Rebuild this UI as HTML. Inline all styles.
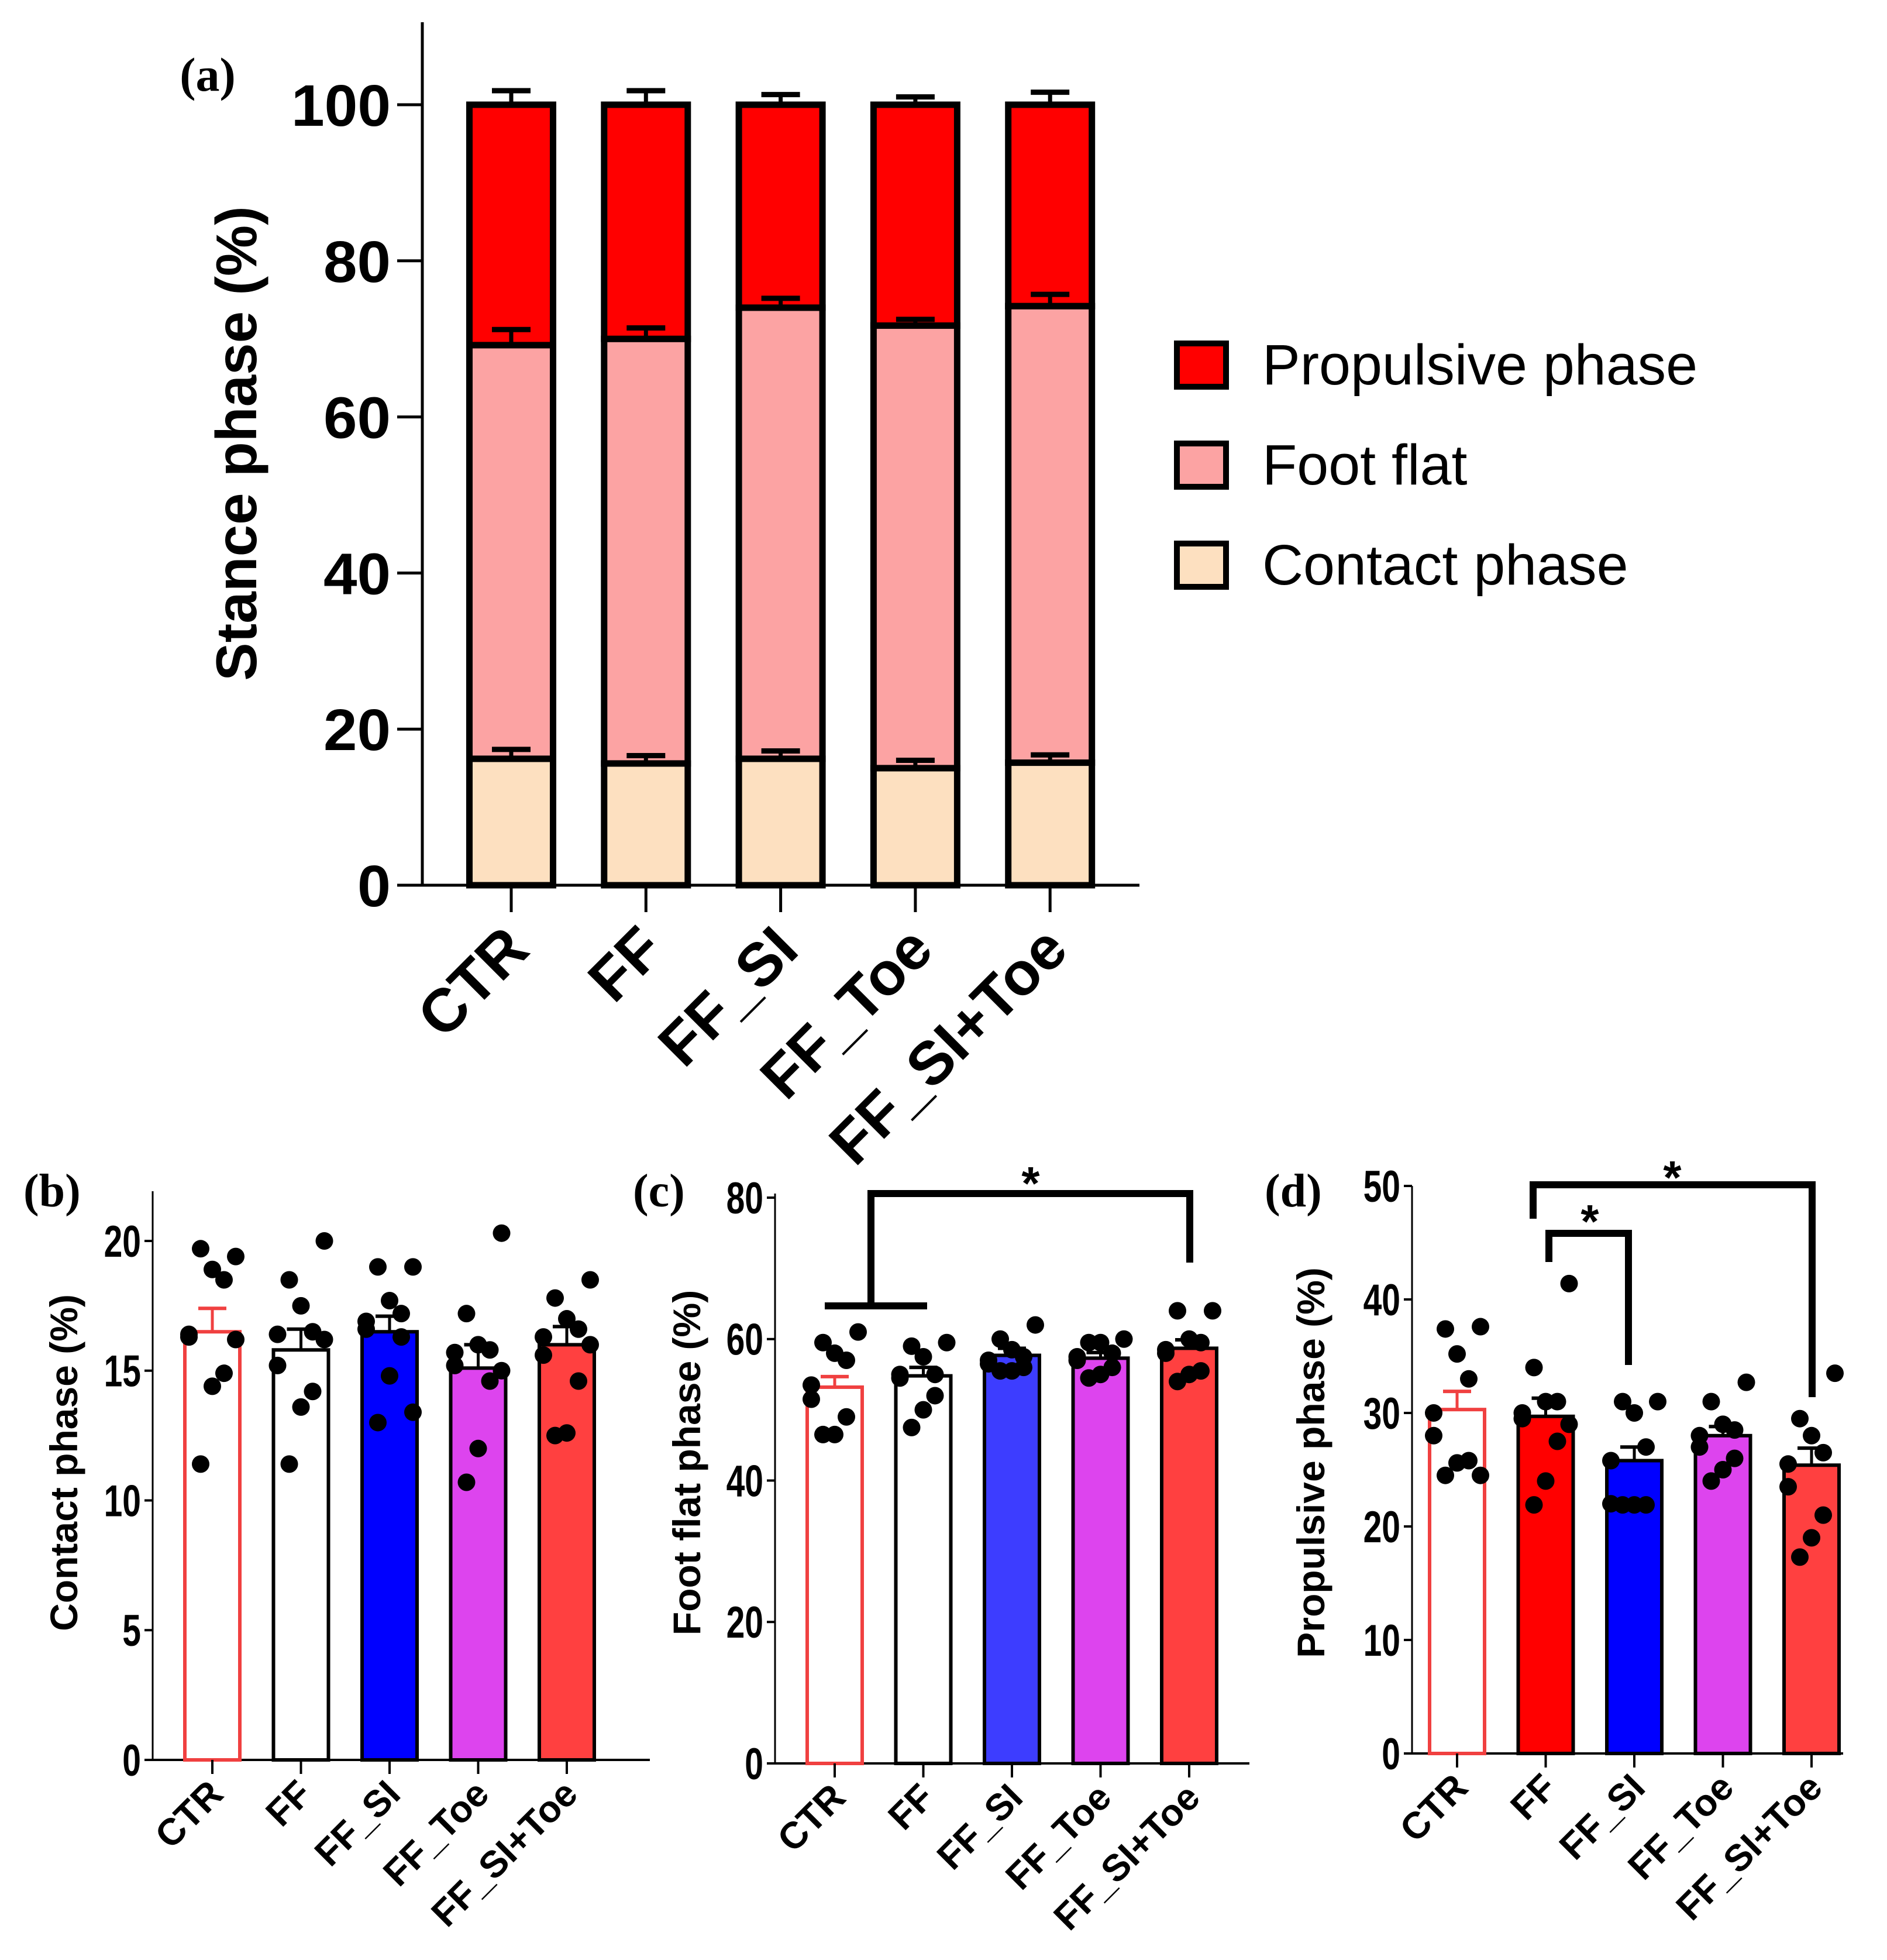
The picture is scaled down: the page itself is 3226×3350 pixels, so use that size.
<!DOCTYPE html>
<html><head><meta charset="utf-8">
<style>
html,body{margin:0;padding:0;background:#fff;}
svg{display:block;}
text{font-family:"Liberation Sans",sans-serif;}
text.serif{font-family:"Liberation Serif",serif;}
</style></head>
<body>
<svg id="fig" width="3226" height="3350" viewBox="0 0 3226 3350" xmlns="http://www.w3.org/2000/svg"></svg>
<script>
// ---------- Panel (a) data ----------
const groups = ["CTR","FF","FF_SI","FF_Toe","FF_SI+Toe"];
const contactMean = [16.2,15.6,16.2,15.0,15.7];
const contactErr = [1.2,1.0,1.0,1.0,1.0];
const footFlatTop = [69.2,70.0,74.0,71.7,74.2];
const footFlatErr = [2.0,1.4,1.2,0.8,1.5];
const propulsiveTop = [100,100,100,100,100];
const propulsiveErr = [1.8,1.8,1.3,1.0,1.6];
const aTicks = [0,20,40,60,80,100];
const legendLabels = ["Propulsive phase","Foot flat","Contact phase"];

// ---------- Panel (b) data ----------
const bMeans = [16.5,15.8,16.5,15.1,16.0];
const bErr = [0.9,0.8,0.6,0.9,0.7];
const bTicks = [0,5,10,15,20];
const bPoints = [
 [19.4,19.7,18.9,18.5,16.4,16.3,14.9,14.4,11.4,16.2],
 [20.0,18.5,17.5,16.5,16.4,15.2,14.2,13.6,11.4,16.2],
 [19.0,19.0,17.7,17.2,16.9,16.6,16.3,14.8,13.0,13.4],
 [20.3,17.2,16.0,15.8,15.7,15.2,14.6,12.0,10.7,15.0],
 [18.5,17.8,17.0,16.6,16.3,15.6,14.6,12.6,12.5,16.0]
];
// ---------- Panel (c) data ----------
const cMeans = [53.2,54.8,57.7,57.3,58.7];
const cErr = [1.5,1.2,1.0,0.8,1.2];
const cTicks = [0,20,40,60,80];
const cPoints = [
 [61,59.5,58,57,53.5,51.5,49,46.5,46.5],
 [59.5,59,57.5,55,55,54.5,52,50,47.5],
 [62,60,58.5,57.5,57,56.5,56,55.5,55.5],
 [60,59.5,59.5,58,57.5,57,56,55,54.5],
 [64,64,60,59.5,58.5,58,55.5,55,54]
];
// ---------- Panel (d) data ----------
const dMeans = [30.3,29.7,25.8,28.0,25.4];
const dErr = [1.6,1.6,1.2,0.8,1.5];
const dTicks = [0,10,20,30,40,50];
const dPoints = [
 [37.6,37.4,35.2,33.0,30.0,28.0,25.8,25.6,24.5,24.5],
 [41.4,34.0,31.0,31.0,30.0,29.5,27.5,24.0,21.9,29.0],
 [31.0,31.0,30.0,27.0,25.8,22.0,21.9,21.9,21.9],
 [32.7,31.0,29.0,28.5,28.0,27.0,26.0,25.0,24.0],
 [33.5,29.5,28.0,26.5,25.5,23.5,21.0,19.0,17.3]
];

const NS="http://www.w3.org/2000/svg";
const svg=document.getElementById('fig');
function el(tag,attrs,parent){const e=document.createElementNS(NS,tag);for(const k in attrs)e.setAttribute(k,attrs[k]);(parent||svg).appendChild(e);return e;}
function txt(s,attrs,parent){const e=el('text',attrs,parent);e.textContent=s;return e;}

// ================= Panel (a) =================
(function(){
 const g=el('g',{});
 
 
 const x0=722, yZero=1513, y100=179, xEnd=1948, yTop=38;
 const y=v=>yZero-(v/100)*(yZero-y100);
 const xc=i=>874+i*230.3;
 const bw=143;
 let ax=el('line',{x1:x0,y1:yTop,x2:x0,y2:yZero,stroke:'#000','stroke-width':5},g);
 
 let xa=el('line',{x1:679,y1:yZero,x2:xEnd,y2:yZero,stroke:'#000','stroke-width':5},g);
 
 aTicks.forEach(t=>{
  el('line',{x1:679,y1:y(t),x2:x0,y2:y(t),stroke:'#000','stroke-width':5},g);
  const l=txt(String(t),{x:668,y:y(t)+36,'text-anchor':'end','font-size':100,'font-weight':'bold',textLength:t>=100?170:(t>0?115:57),lengthAdjust:'spacingAndGlyphs'},g);
  
 });
 const yt=txt('Stance phase (%)',{x:0,y:0,'font-size':98,'font-weight':'bold','text-anchor':'middle',transform:'translate(438,758) rotate(-90)'},g);
 
 const pl=txt('(a)',{x:355,y:155,'font-size':82,'font-weight':'bold','class':'serif','text-anchor':'middle'},g);
 
 groups.forEach((name,i)=>{
  const cx=xc(i);
  const segs=[[0,contactMean[i],'#fde0c0','contact'],[contactMean[i],footFlatTop[i],'#fca3a3','foot-flat'],[footFlatTop[i],propulsiveTop[i],'#ff0000','propulsive']];
  const errs=[contactErr[i],footFlatErr[i],propulsiveErr[i]];
  segs.forEach((s,k)=>{
   const r=el('rect',{x:cx-bw/2,y:y(s[1]),width:bw,height:y(s[0])-y(s[1]),fill:s[2],stroke:'#000','stroke-width':11},g);
   
  });
  segs.forEach((s,k)=>{
   const top=y(s[1]+errs[k]);
   el('line',{x1:cx,y1:y(s[1]),x2:cx,y2:top,stroke:'#000','stroke-width':7},g);
   const c=el('line',{x1:cx-33,y1:top,x2:cx+33,y2:top,stroke:'#000','stroke-width':9},g);
   
  });
  el('line',{x1:cx,y1:yZero,x2:cx,y2:yZero+46,stroke:'#000','stroke-width':5},g);
  const lb=txt(name,{x:0,y:0,'font-size':104,'font-weight':'bold','text-anchor':'end',transform:`translate(${cx+35},${yZero+115}) rotate(-45)`},g);
  
 });
 const cols=['#ff0000','#fca3a3','#fde0c0'];
 legendLabels.forEach((s,k)=>{
  const yy=587+k*171;
  const r=el('rect',{x:2012,y:yy,width:84,height:74,fill:cols[k],stroke:'#000','stroke-width':10},g);
  
  const t=txt(s,{x:2158,y:yy+70,'font-size':97},g);
  
 });
})();

// ================= Small panels =================
function smallPanel(o){
 const g=el('g',{});
 
 
 const y=v=>o.yZero-(v/o.max)*(o.yZero-o.yMax);
 const xc=i=>o.xFirst+i*o.step;
 const bw=94;
 el('line',{x1:o.x0,y1:o.yTop,x2:o.x0,y2:o.yZero,stroke:'#000','stroke-width':3},g);
 el('line',{x1:o.x0-12,y1:o.yZero,x2:o.xEnd,y2:o.yZero,stroke:'#000','stroke-width':4},g);
 o.ticks.forEach(t=>{
  el('line',{x1:o.x0-14,y1:y(t),x2:o.x0,y2:y(t),stroke:'#000','stroke-width':4},g);
  const l=txt(String(t),{x:o.x0-20,y:y(t)+27,'text-anchor':'end','font-size':76,'font-weight':'bold',transform:`translate(${(o.x0-20)*0.25},0) scale(0.75,1)`},g);
  
 });
 const yt=txt(o.title,{x:0,y:0,'font-size':66,'font-weight':'bold','text-anchor':'middle',transform:`translate(${o.titleX},${o.titleY}) rotate(-90)`},g);
 
 const pl=txt(o.label,{x:o.labelX,y:o.labelY,'font-size':80,'font-weight':'bold','class':'serif'},g);
 
 groups.forEach((name,i)=>{
  const cx=xc(i), m=o.means[i];
  const fill=o.fills[i], stroke=o.strokes[i];
  const r=el('rect',{x:cx-bw/2,y:y(m),width:bw,height:o.yZero-y(m),fill:fill,stroke:stroke,'stroke-width':6},g);
  
  const ec=stroke;
  const top=y(m+o.err[i]);
  el('line',{x1:cx,y1:y(m),x2:cx,y2:top,stroke:ec,'stroke-width':5},g);
  const c=el('line',{x1:cx-24,y1:top,x2:cx+24,y2:top,stroke:ec,'stroke-width':6},g);
  
  const pts=o.points[i];
  pts.forEach((v,j)=>{
   const off=((j%5)-2)*20*((j%2)?1:-1);
   const d=el('circle',{cx:cx+off,cy:y(v),r:15,fill:'#000'},g);
   
  });
  el('line',{x1:cx,y1:o.yZero,x2:cx,y2:o.yZero+24,stroke:'#000','stroke-width':4},g);
  const lb=txt(name,{x:0,y:0,'font-size':64,'font-weight':'bold','text-anchor':'end',transform:`translate(${cx+22},${o.yZero+62}) rotate(-45)`},g);
  
 });
 (o.brackets||[]).forEach(b=>{
  const p=el('polyline',{points:b.pts,fill:'none',stroke:'#000','stroke-width':12},g);
  
  const s=txt('*',{x:b.sx,y:b.sy,'font-size':80,'font-weight':'bold','text-anchor':'middle'},g);
  
 });
}
smallPanel({name:'panel-b',label:'(b)',labelX:40,labelY:2062,x0:261,yTop:2036,yZero:3008,yMax:2121,max:20,xEnd:1111,xFirst:363,step:151.5,
 ticks:bTicks,means:bMeans,err:bErr,points:bPoints,title:'Contact phase (%)',titleX:132,titleY:2500,
 fills:['#fff','#fff','#0000ff','#dd44ee','#ff4040'],strokes:['#f04040','#000','#000','#000','#000']});
smallPanel({name:'panel-c',label:'(c)',labelX:1082,labelY:2062,x0:1325,yTop:2040,yZero:3014,yMax:2047,max:80,xEnd:2136,xFirst:1427,step:151.5,
 ticks:cTicks,means:cMeans,err:cErr,points:cPoints,title:'Foot flat phase (%)',titleX:1197,titleY:2500,
 fills:['#fff','#fff','#3d3dff','#dd44ee','#ff4040'],strokes:['#f04040','#000','#000','#000','#000'],
 brackets:[{pts:'1410,2232 1585,2232 1585,2232 1489,2232 1489,2040 2034,2040 2034,2158',sx:1762,sy:2050}]});
smallPanel({name:'panel-d',label:'(d)',labelX:2162,labelY:2062,x0:2414,yTop:2027,yZero:2997,yMax:2027,max:50,xEnd:3151,xFirst:2491,step:151.5,
 ticks:dTicks,means:dMeans,err:dErr,points:dPoints,title:'Propulsive phase (%)',titleX:2264,titleY:2500,
 fills:['#fff','#ff0000','#0000ff','#dd44ee','#ff4040'],strokes:['#f04040','#000','#000','#000','#000'],
 brackets:[{pts:'2621,2083 2621,2025 3098,2025 3098,2388',sx:2859,sy:2040},{pts:'2648,2157 2648,2108 2784,2108 2784,2333',sx:2718,sy:2115}]});
</script>
</body></html>
